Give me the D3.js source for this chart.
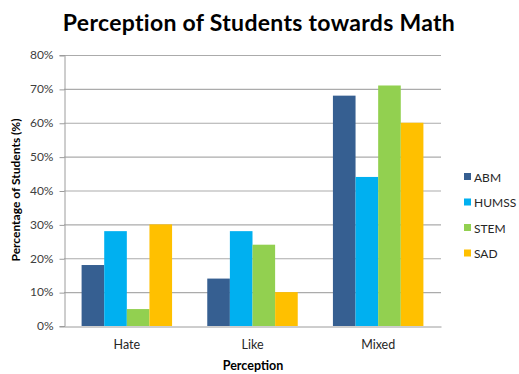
<!DOCTYPE html>
<html>
<head>
<meta charset="utf-8">
<script src="https://cdn.jsdelivr.net/npm/d3@7"></script>
<style>
  html, body { margin: 0; padding: 0; background: #fff; }
  svg { display: block; }
  text { font-family: Lato, "Open Sans", "Liberation Sans", sans-serif; }
</style>
</head>
<body>
<svg id="chart" width="519" height="374"></svg>
<script>
// Survey results: share of students per strand for each perception
const categories = ["Hate", "Like", "Mixed"];
const seriesNames = ["ABM", "HUMSS", "STEM", "SAD"];
const abm   = [18, 14, 68];
const humss = [28, 28, 44];
const stem  = [5, 24, 71];
const sad   = [30, 10, 60];
const yTicks = [0, 10, 20, 30, 40, 50, 60, 70, 80];
const colors = ["#365F91", "#00B0F0", "#92D050", "#FFC000"];

const seriesValues = [abm, humss, stem, sad];

const svg = d3.select("#chart");
const x0 = 64, x1 = 441, yTop = 55, yBot = 326;

const x = d3.scaleBand().domain(categories).range([x0, x1]).paddingInner(0.28).paddingOuter(0.14);
const xs = d3.scaleBand().domain(seriesNames).range([0, x.bandwidth()]).padding(0);
const y = d3.scaleLinear().domain([0, 80]).range([yBot, yTop]);

// Gridlines
svg.append("g")
  .selectAll("line")
  .data(yTicks.filter(t => t > 0))
  .join("line")
  .attr("x1", x0).attr("x2", x1)
  .attr("y1", d => y(d) + 0.5).attr("y2", d => y(d) + 0.5)
  .attr("stroke", "#ABABAB").attr("stroke-width", 1.2);

// Y axis
const yAxis = svg.append("g")
  .attr("transform", `translate(${x0 + 0.5},0)`)
  .call(d3.axisLeft(y).tickValues(yTicks).tickSize(5).tickPadding(6).tickFormat(d => d + "%"));
yAxis.select(".domain").attr("stroke", "#9C9C9C");
yAxis.selectAll(".tick line").attr("stroke", "#9C9C9C").attr("transform", "translate(0,0.5)");
yAxis.selectAll(".tick text")
  .attr("fill", "#404040").attr("font-size", 12)
  .style("font-family", "Lato, 'Open Sans', sans-serif");

// Bars
const groups = svg.append("g")
  .selectAll("g")
  .data(categories)
  .join("g")
  .attr("transform", d => `translate(${x(d)},0)`);

groups.selectAll("rect")
  .data((c, i) => seriesNames.map((s, k) => ({ s, v: seriesValues[k][i], k })))
  .join("rect")
  .attr("x", d => xs(d.s))
  .attr("width", xs.bandwidth())
  .attr("y", d => y(d.v))
  .attr("height", d => yBot - y(d.v))
  .attr("fill", d => colors[d.k]);

// X axis
const xAxis = svg.append("g")
  .attr("transform", `translate(0,${yBot + 0.5})`)
  .call(d3.axisBottom(x).tickSize(0).tickPadding(14));
xAxis.select(".domain").attr("stroke", "#9C9C9C");
xAxis.selectAll(".tick text")
  .attr("fill", "#262626").attr("font-size", 12.5)
  .style("font-family", "Lato, 'Open Sans', sans-serif");

// Title
svg.append("text")
  .attr("x", 259).attr("y", 31)
  .attr("text-anchor", "middle")
  .attr("font-size", 23).attr("font-weight", "bold")
  .attr("letter-spacing", 0.3)
  .attr("fill", "#000")
  .text("Perception of Students towards Math");

// Axis titles
svg.append("text")
  .attr("x", 253).attr("y", 370)
  .attr("text-anchor", "middle")
  .attr("font-size", 12.5).attr("font-weight", "bold")
  .attr("fill", "#000")
  .text("Perception");

svg.append("text")
  .attr("transform", "translate(20,190) rotate(-90)")
  .attr("text-anchor", "middle")
  .attr("font-size", 12).attr("font-weight", "bold")
  .attr("fill", "#000")
  .text("Percentage of Students (%)");

// Legend
const legend = svg.append("g")
  .selectAll("g")
  .data(seriesNames)
  .join("g")
  .attr("transform", (d, i) => `translate(464,${177 + i * 25.5})`);
legend.append("rect")
  .attr("x", 0).attr("y", -4).attr("width", 7).attr("height", 7)
  .attr("fill", (d, i) => colors[i]);
legend.append("text")
  .attr("x", 10).attr("y", 4.5)
  .attr("font-size", 12).attr("fill", "#262626")
  .text(d => d);
</script>
</body>
</html>
